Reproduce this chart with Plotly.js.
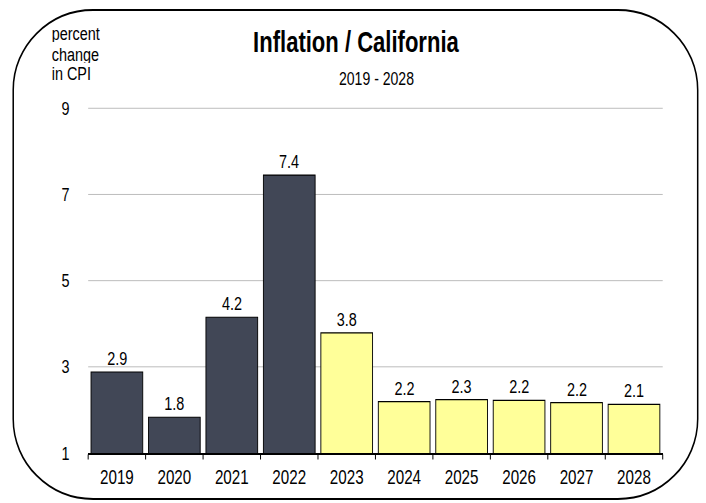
<!DOCTYPE html>
<html>
<head>
<meta charset="utf-8">
<script src="https://cdn.plot.ly/plotly-3.0.1.min.js"></script>
<style>
html,body{margin:0;padding:0;background:#fff;overflow:hidden;}
#wrap{width:706px;height:503px;overflow:hidden;}
#chart{transform-origin:0 0;}
</style>
</head>
<body>
<div id="wrap"><div id="chart"></div></div>
<script>
// ---- data ----
const years = ['2019','2020','2021','2022','2023','2024','2025','2026','2027','2028'];
const inflation = [2.88, 1.83, 4.15, 7.45, 3.79, 2.19, 2.24, 2.22, 2.17, 2.13];
const valueLabels = ['2.9','1.8','4.2','7.4','3.8','2.2','2.3','2.2','2.2','2.1'];
const isForecast = [false,false,false,false,true,true,true,true,true,true];
const yTicks = [1,3,5,7,9];

// The reference uses a narrow Arial-like face; emulate by drawing wider and squeezing horizontally.
const S = 0.76;
const FONT = '"Liberation Sans", Arial, sans-serif';
const W = 706, H = 503;
const WI = W / S;
const M = {l: 88 / S, r: 43 / S, t: 107, b: 50};
const PW = WI - M.l - M.r, PH = H - M.t - M.b;
// convert real page pixels to paper coords
const px = x => (x / S - M.l) / PW;
const py = y => (H - M.b - y) / PH;

document.getElementById('chart').style.transform = 'scaleX(' + S + ')';

function roundedRect(x0, y0, x1, y1, r) {
  const k = 0.5523 * r;
  const P = (x, y) => px(x) + ',' + py(y);
  return 'M' + P(x0 + r, y0) +
    ' L' + P(x1 - r, y0) +
    ' C' + P(x1 - r + k, y0) + ' ' + P(x1, y0 + r - k) + ' ' + P(x1, y0 + r) +
    ' L' + P(x1, y1 - r) +
    ' C' + P(x1, y1 - r + k) + ' ' + P(x1 - r + k, y1) + ' ' + P(x1 - r, y1) +
    ' L' + P(x0 + r, y1) +
    ' C' + P(x0 + r - k, y1) + ' ' + P(x0, y1 - r + k) + ' ' + P(x0, y1 - r) +
    ' L' + P(x0, y0 + r) +
    ' C' + P(x0, y0 + r - k) + ' ' + P(x0 + r - k, y0) + ' ' + P(x0 + r, y0) + ' Z';
}

const trace = {
  type: 'bar',
  x: years,
  y: inflation,
  marker: {
    color: isForecast.map(f => f ? '#ffff99' : '#414756'),
    line: {color: '#000', width: 1.2}
  },
  hoverinfo: 'x+y'
};

const annotations = years.map((yr, i) => ({
  x: i, y: inflation[i], xref: 'x', yref: 'y',
  text: valueLabels[i], showarrow: false, yanchor: 'bottom', yshift: 1,
  font: {family: FONT, size: 19, color: '#000'}
}));

annotations.push({
  xref: 'paper', yref: 'paper', x: px(356.5), y: py(42),
  text: '<b>Inflation / California</b>', showarrow: false,
  xanchor: 'center', yanchor: 'middle',
  font: {family: FONT, size: 29, color: '#000'}
});
annotations.push({
  xref: 'paper', yref: 'paper', x: px(377), y: py(79),
  text: '2019 - 2028', showarrow: false,
  xanchor: 'center', yanchor: 'middle',
  font: {family: FONT, size: 18.5, color: '#000'}
});
const yLabelLines = ['percent', 'change', 'in CPI'];
const yLabelY = [34, 55, 73];
yLabelLines.forEach((t, i) => annotations.push({
  xref: 'paper', yref: 'paper', x: px(51), y: py(yLabelY[i]),
  text: t, showarrow: false, xanchor: 'left', yanchor: 'middle',
  height: 17, borderpad: 0,
  font: {family: FONT, size: 19, color: '#000'}
}));

const layout = {
  width: WI, height: H,
  margin: M,
  paper_bgcolor: '#fff', plot_bgcolor: '#fff',
  showlegend: false,
  bargap: 0.1,
  font: {family: FONT, color: '#000'},
  xaxis: {
    type: 'category',
    tickson: 'boundaries',
    ticks: 'outside', ticklen: 5, tickcolor: '#000', tickwidth: 1.3,
    showline: true, linecolor: '#000', linewidth: 1.5,
    showgrid: false,
    tickfont: {family: FONT, size: 20, color: '#000'},
    ticklabelstandoff: 6,
    fixedrange: true
  },
  yaxis: {
    range: [1, 9.03],
    tickvals: yTicks,
    ticktext: yTicks.map(String),
    showgrid: true, gridcolor: '#b4b4b4', gridwidth: 1,
    zeroline: false, showline: false,
    ticks: 'outside', ticklen: 15 / S, tickcolor: 'rgba(0,0,0,0)',
    tickfont: {family: FONT, size: 19, color: '#000'},
    fixedrange: true
  },
  annotations: annotations,
  shapes: [{
    type: 'path', xref: 'paper', yref: 'paper', layer: 'above',
    path: roundedRect(13, 10, 698, 499, 80),
    line: {color: '#000', width: 2}
  }]
};

Plotly.newPlot('chart', [trace], layout, {displayModeBar: false, staticPlot: true});
</script>
</body>
</html>
